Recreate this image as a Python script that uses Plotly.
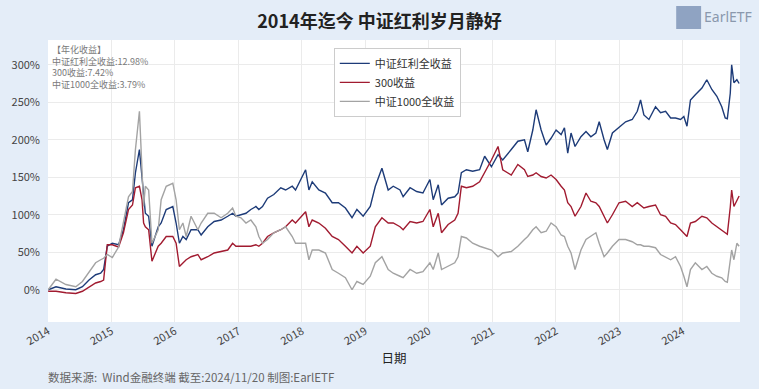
import plotly.graph_objects as go

dates = [
    "2014-01-02", "2014-02-16", "2014-04-14", "2014-06-10", "2014-07-18", "2014-08-25", "2014-10-02",
    "2014-10-31", "2014-11-17", "2014-12-08", "2015-01-06", "2015-02-11", "2015-03-11", "2015-04-09",
    "2015-05-02", "2015-05-19", "2015-06-11", "2015-06-26", "2015-07-05", "2015-07-15", "2015-08-03",
    "2015-08-22", "2015-09-27", "2015-10-14", "2015-11-12", "2015-12-20", "2016-01-08", "2016-01-27",
    "2016-02-16", "2016-03-06", "2016-04-03", "2016-05-12", "2016-05-31", "2016-07-08", "2016-08-14",
    "2016-09-23", "2016-10-31", "2016-11-28", "2016-12-17", "2017-01-15", "2017-02-13", "2017-03-13",
    "2017-04-11", "2017-04-28", "2017-05-19", "2017-06-17", "2017-07-23", "2017-09-01", "2017-09-29",
    "2017-11-06", "2017-11-25", "2018-01-22", "2018-02-10", "2018-03-01", "2018-04-08", "2018-05-16",
    "2018-06-24", "2018-07-30", "2018-09-08", "2018-10-16", "2018-11-13", "2018-12-19", "2019-01-29",
    "2019-02-27", "2019-04-06", "2019-05-12", "2019-06-10", "2019-07-19", "2019-08-06", "2019-09-15",
    "2019-10-23", "2019-11-28", "2020-01-07", "2020-01-26", "2020-02-24", "2020-03-14", "2020-04-21",
    "2020-05-29", "2020-06-17", "2020-07-06", "2020-08-04", "2020-09-09", "2020-10-19", "2020-11-17",
    "2020-12-26", "2021-02-02", "2021-03-01", "2021-04-19", "2021-05-27", "2021-07-04", "2021-07-23",
    "2021-08-21", "2021-09-09", "2021-10-08", "2021-11-06", "2021-12-04", "2022-01-02", "2022-01-31",
    "2022-02-19", "2022-03-10", "2022-03-29", "2022-04-21", "2022-05-25", "2022-06-23", "2022-07-21",
    "2022-08-19", "2022-09-07", "2022-10-05", "2022-10-24", "2022-11-22", "2022-12-30", "2023-02-06",
    "2023-03-16", "2023-04-14", "2023-05-03", "2023-05-22", "2023-06-20", "2023-07-28", "2023-08-26",
    "2023-09-24", "2023-10-23", "2023-11-20", "2023-12-19", "2024-01-07", "2024-01-25", "2024-02-14",
    "2024-03-13", "2024-04-20", "2024-05-18", "2024-06-16", "2024-07-15", "2024-08-12", "2024-09-01",
    "2024-09-13", "2024-09-30", "2024-10-08", "2024-10-21", "2024-11-07", "2024-11-20",
]

dividend_tr = [
    0, 4, 1, 0, 4, 13, 20,
    22, 27, 58, 62, 60, 80, 116,
    120, 156, 187, 151, 120, 102, 98,
    58, 84, 89, 107, 111, 89, 62,
    71, 67, 80, 80, 73, 84, 91,
    93, 98, 102, 98, 100, 102, 107,
    111, 107, 111, 122, 127, 136, 133,
    138, 133, 160, 133, 144, 133, 129,
    116, 116, 109, 96, 107, 98, 111,
    138, 162, 133, 138, 133, 124, 136,
    131, 129, 147, 120, 140, 113, 122,
    124, 129, 156, 160, 158, 160, 178,
    164, 180, 173, 187, 198, 200, 184,
    213, 240, 213, 193, 202, 213, 207,
    216, 182, 209, 191, 204, 211, 204,
    209, 224, 200, 187, 209, 216, 224,
    227, 238, 253, 233, 227, 244, 236,
    238, 229, 229, 227, 231, 218, 253,
    260, 269, 280, 267, 258, 244, 229,
    228, 262, 300, 276, 280, 275,
]

csi300 = [
    -2, -2, -4, -5, -2, 4, 9,
    11, 13, 60, 60, 57, 76, 107,
    113, 136, 138, 120, 89, 84, 80,
    38, 58, 62, 71, 71, 62, 31,
    36, 40, 44, 47, 40, 44, 49,
    51, 53, 62, 58, 58, 58, 58,
    60, 58, 62, 71, 76, 80, 84,
    93, 89, 104, 84, 93, 89, 82,
    71, 67, 58, 49, 58, 49, 58,
    84, 96, 89, 89, 84, 80, 91,
    89, 91, 107, 84, 102, 76, 87,
    93, 102, 138, 136, 138, 144, 156,
    173, 191, 160, 153, 167, 160, 151,
    153, 156, 151, 149, 153, 147, 138,
    133, 116, 111, 98, 111, 129, 118,
    116, 111, 98, 89, 100, 116, 118,
    111, 116, 113, 109, 111, 113, 100,
    98, 89, 87, 80, 76, 71, 89,
    91, 98, 96, 89, 84, 80, 76,
    74, 110, 133, 111, 120, 125,
]

csi1000_tr = [
    0, 14, 7, 4, 11, 24, 36,
    40, 42, 47, 43, 57, 89, 124,
    131, 187, 238, 156, 111, 138, 133,
    62, 80, 120, 138, 142, 120, 80,
    89, 71, 98, 80, 89, 102, 102,
    96, 102, 109, 98, 96, 89, 93,
    84, 71, 62, 67, 76, 80, 84,
    71, 62, 62, 40, 53, 53, 49,
    27, 22, 16, 0, 11, 7, 18,
    36, 44, 27, 22, 18, 16, 27,
    22, 24, 36, 27, 49, 27, 31,
    36, 44, 71, 69, 62, 58, 56,
    53, 44, 49, 51, 58, 67, 71,
    80, 84, 76, 78, 89, 84, 73,
    71, 58, 49, 27, 53, 67, 71,
    76, 62, 44, 49, 58, 67, 67,
    64, 60, 60, 58, 58, 56, 47,
    44, 40, 44, 31, 18, 4, 27,
    36, 27, 31, 22, 18, 16, 11,
    10, 45, 53, 40, 62, 58,
]

series_names = ["中证红利全收益", "300收益", "中证1000全收益"]
series_colors = ["#1d3b78", "#a11b30", "#a3a3a3"]
ann_lines = ["【年化收益】", "中证红利全收益:12.98%", "300收益:7.42%", "中证1000全收益:3.79%"]
y_ticks = [0, 50, 100, 150, 200, 250, 300]
x_ticks = [f"{y}-01-01" for y in range(2014, 2025)]

FONT = "Noto Sans CJK SC, Noto Sans, sans-serif"

fig = go.Figure()
for name, vals, col in zip(series_names, [dividend_tr, csi300, csi1000_tr], series_colors):
    fig.add_trace(go.Scatter(
        x=dates, y=vals, mode="lines", name=name,
        line=dict(color=col, width=1.4),
    ))

fig.update_layout(
    width=759, height=389,
    margin=dict(l=46, r=19, t=40, b=67),
    paper_bgcolor="#e4edf8",
    plot_bgcolor="#ffffff",
    font=dict(family=FONT, size=11, color="#333333"),
    title=dict(
        text="<b>2014年迄今 中证红利岁月静好</b>",
        x=0.5, xref="container", xanchor="center",
        y=0.943, yref="container", yanchor="middle",
        font=dict(family=FONT, size=18, color="#222222"),
    ),
    showlegend=True,
    legend=dict(
        x=0.413, y=0.972, xanchor="left", yanchor="top",
        bgcolor="#ffffff", bordercolor="#cccccc", borderwidth=1,
        font=dict(family=FONT, size=11, color="#333333"),
        tracegroupgap=0, itemwidth=30,
    ),
)

fig.update_xaxes(
    type="date",
    range=["2014-01-01", "2024-11-25"],
    tickvals=x_ticks,
    tickformat="%Y",
    tickangle=-30,
    showgrid=True, gridcolor="#ebebeb", gridwidth=1,
    zeroline=False, showline=False,
    ticks="", tickfont=dict(size=11, color="#444444"),
    title=dict(text="日期", font=dict(family=FONT, size=12.5, color="#222222"), standoff=4),
)
fig.update_yaxes(
    range=[-43, 333],
    tickvals=y_ticks,
    ticktext=[f"{v}%" for v in y_ticks],
    showgrid=True, gridcolor="#ebebeb", gridwidth=1,
    zeroline=False, showline=False,
    ticks="", tickfont=dict(size=11, color="#444444"),
    ticklabelstandoff=7,
)

fig.add_annotation(
    xref="paper", yref="paper", x=0.003, y=0.998, xanchor="left", yanchor="top",
    text="<br>".join(ann_lines), showarrow=False, align="left",
    font=dict(family=FONT, size=9, color="#7a7a7a"),
)

fig.add_annotation(
    xref="paper", yref="paper", x=-0.003, y=-0.16, xanchor="left", yanchor="top",
    text="数据来源:  Wind金融终端 截至:2024/11/20 制图:EarlETF", showarrow=False,
    font=dict(family=FONT, size=11.5, color="#666666"),
)

# logo
fig.add_shape(type="rect", xref="paper", yref="paper",
              x0=(676 - 46) / 694, x1=(701 - 46) / 694,
              y0=(322 - 29) / 282, y1=(322 - 6) / 282,
              fillcolor="#8fa3c2", line=dict(width=0), layer="above")
fig.add_annotation(
    xref="paper", yref="paper", x=(702 - 46) / 694, y=(322 - 16) / 282,
    xanchor="left", yanchor="middle", text="EarlETF", showarrow=False,
    font=dict(family="Noto Sans, sans-serif", size=14, color="#8a98ad"),
)

fig.write_html(
    "out.html",
    config={"displayModeBar": False},
    post_script="document.body.style.margin='0';document.body.style.overflow='hidden';",
)
